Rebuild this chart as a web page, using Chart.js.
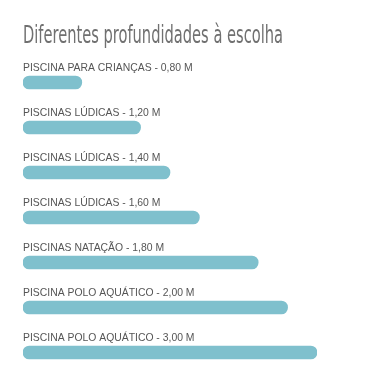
<!DOCTYPE html>
<html><head><meta charset="utf-8">
<script src="https://cdn.jsdelivr.net/npm/chart.js@4"></script>
<style>html,body{margin:0;padding:0;background:#fff;}#wrap{width:374px;height:384px;position:relative;}</style>
</head><body><div id="wrap"><canvas id="c" width="374" height="384"></canvas></div>
<script>
const titleText = "Diferentes profundidades à escolha";
const categories = ["PISCINA PARA CRIANÇAS - 0,80 M","PISCINAS LÚDICAS - 1,20 M","PISCINAS LÚDICAS - 1,40 M","PISCINAS LÚDICAS - 1,60 M","PISCINAS NATAÇÃO - 1,80 M","PISCINA POLO AQUÁTICO - 2,00 M","PISCINA POLO AQUÁTICO - 3,00 M"];
const values = [20, 40, 50, 60, 80, 90, 100];

const barLabels = {
  id: 'barLabels',
  afterDatasetsDraw(chart) {
    const ctx = chart.ctx;
    const meta = chart.getDatasetMeta(0);
    ctx.save();
    ctx.font = '10.4px "Liberation Sans", Arial, sans-serif';
    ctx.fillStyle = '#555555';
    ctx.textBaseline = 'alphabetic';
    ctx.textAlign = 'left';
    meta.data.forEach((bar, i) => {
      const top = bar.y - bar.height / 2;
      ctx.fillText(categories[i], chart.chartArea.left, top - 5);
    });
    // title, drawn condensed
    ctx.font = '25px "DejaVu Sans Condensed", "Liberation Sans Narrow", sans-serif';
    ctx.fillStyle = '#707070';
    const w = ctx.measureText(titleText).width;
    const sx = 260 / w;
    ctx.translate(chart.chartArea.left, 43);
    ctx.scale(sx, 1);
    ctx.fillText(titleText, 0, 0);
    ctx.restore();
  }
};

new Chart(document.getElementById('c'), {
  type: 'bar',
  data: {
    labels: categories,
    datasets: [{
      data: values,
      backgroundColor: '#7fc0cd',
      borderRadius: 7,
      borderSkipped: false,
      barThickness: 13
    }]
  },
  options: {
    indexAxis: 'y',
    responsive: false,
    animation: false,
    layout: { padding: { left: 23, right: 57, top: 60, bottom: 9 } },
    scales: {
      x: { display: false, min: 0, max: 100 },
      y: { display: false }
    },
    plugins: {
      legend: { display: false },
      tooltip: { enabled: false },
      title: { display: false }
    }
  },
  plugins: [barLabels]
});
</script></body></html>
